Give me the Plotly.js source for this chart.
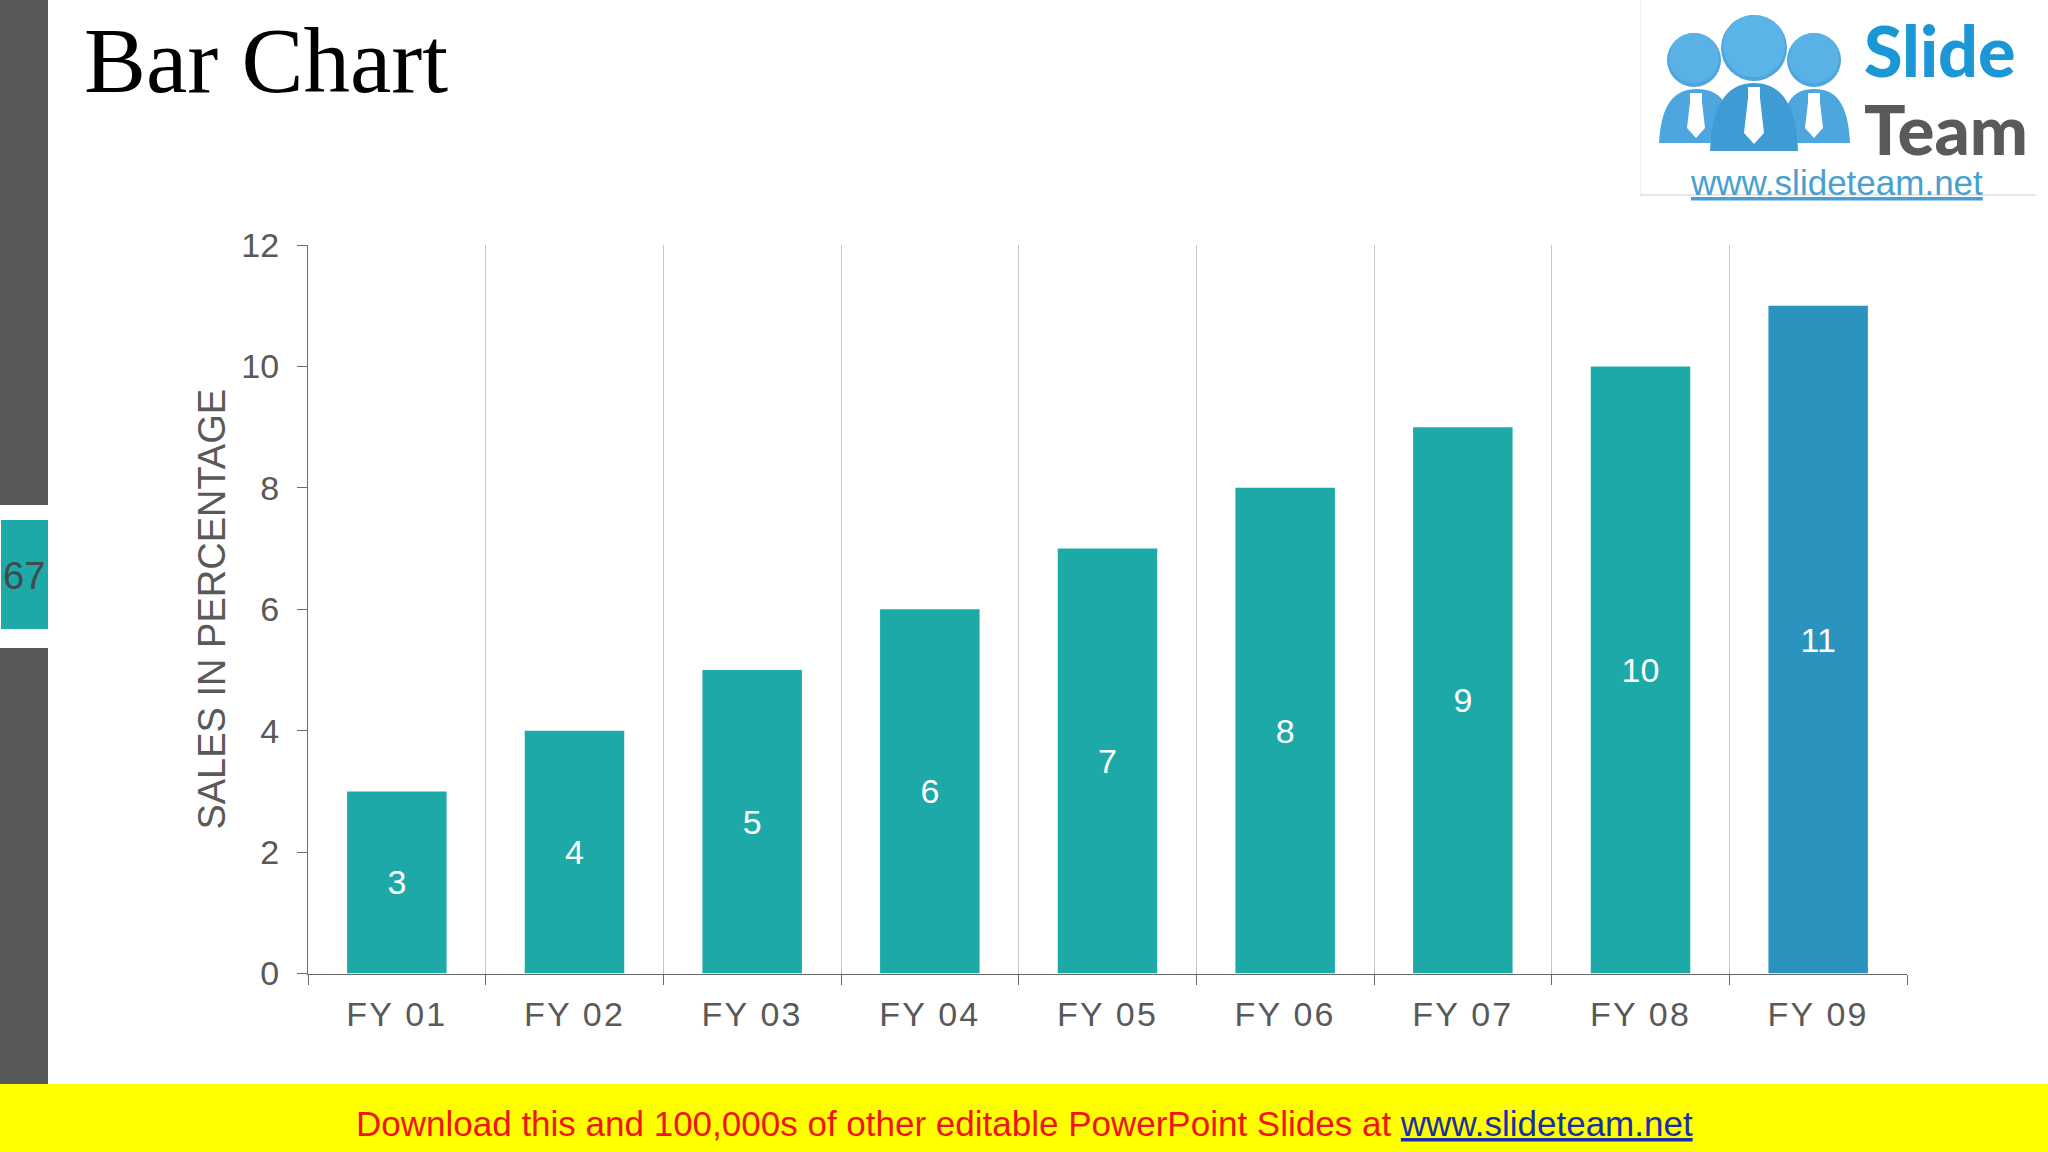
<!DOCTYPE html>
<html>
<head>
<meta charset="utf-8">
<script src="https://cdn.plot.ly/plotly-3.0.1.min.js"></script>
<style>
html,body{margin:0;padding:0;background:#fff;}
#chart{width:2048px;height:1152px;}
.xtick text{letter-spacing:2.2px;}
</style>
</head>
<body>
<div id="chart"></div>
<script>
const categories = ["FY 01","FY 02","FY 03","FY 04","FY 05","FY 06","FY 07","FY 08","FY 09"];
const salesValues = [3,4,5,6,7,8,9,10,11];
const yTickValues = [0,2,4,6,8,10,12];
const chartTitle = "Bar Chart";
const yAxisTitle = "SALES IN PERCENTAGE";
const pageNumber = "67";
const bannerText = "Download this and 100,000s of other editable PowerPoint Slides at ";
const siteText = "www.slideteam.net";

const W = 2048, H = 1152;
const X = p => p / W;
const Y = p => 1 - p / H;
const TEAL = "#1ca9a8", BLUE = "#2b94be", GREY = "#58585a", TEXT = "#595959";

function rect(x0, y0, x1, y1, fill) {
  return {type:"rect", xref:"paper", yref:"paper", x0:X(x0), x1:X(x1), y0:Y(y0), y1:Y(y1),
          fillcolor:fill, line:{width:0}, layer:"below"};
}
function circle(cx, cy, r, fill) {
  return {type:"circle", xref:"paper", yref:"paper", x0:X(cx-r), x1:X(cx+r), y0:Y(cy-r), y1:Y(cy+r),
          fillcolor:fill, line:{width:0}, layer:"below"};
}
// logo path given in page pixels
function logoPath(cmds, fill) {
  const d = cmds.map(c => c[0] + c.slice(1).map((v,i) => (i%2===0 ? X(v) : Y(v))).join(",")).join(" ") + " Z";
  return {type:"path", xref:"paper", yref:"paper", path:d, fillcolor:fill, line:{width:0}, layer:"below"};
}
function body(x0, x1, xm, top, bottom, fill) {
  return logoPath([["M",x0,bottom],["C",x0+2,top+14,xm-22,top,xm,top],["C",xm+22,top,x1-2,top+14,x1,bottom]], fill);
}
function tie(cx, top, neckW, neck, w, shoulder, bottom) {
  return logoPath([["M",cx-neckW,top],["L",cx+neckW,top],["L",cx+neckW,neck],["L",cx+w,shoulder],["L",cx,bottom],["L",cx-w,shoulder],["L",cx-neckW,neck]], "#ffffff");
}

const shapes = [
  rect(0,0,48,505,GREY),
  rect(0,648,48,1084,GREY),
  rect(1,520,48,629,TEAL),
  rect(0,1084,2048,1152,"#ffff00"),
  // logo frame lines
  rect(1640,0,1641,195,"#f2f2f2"),
  rect(1640,194.5,2036,195.5,"#cfcfcf"),
  // logo people
  body(1659,1735,1697,89,143,"#4da6dd"),
  body(1780,1850,1814,89,143,"#4da6dd"),
  tie(1696,93,6,102,9,128,138),
  tie(1814,93,6,102,9,128,138),
  circle(1694,60,27,"#4ea6de"),
  circle(1694,58,25,"#59b1e6"),
  circle(1814,60,27,"#4ea6de"),
  circle(1814,58,25,"#59b1e6"),
  body(1710,1798,1754,83,151,"#3f9bd3"),
  tie(1754,87,6,98,10,133,144),
  circle(1754,48,33,"#4ea6de"),
  circle(1754,46,31,"#5ab4e8")
];

const annotations = [
  {text:chartTitle, xref:"paper", yref:"paper", x:X(82), y:Y(60), xanchor:"left", yanchor:"middle", showarrow:false,
   font:{family:"Liberation Serif, serif", size:93, color:"#000000"}},
  {text:pageNumber, xref:"paper", yref:"paper", x:X(24), y:Y(576), xanchor:"center", yanchor:"middle", showarrow:false,
   font:{family:"Liberation Sans, Arial, sans-serif", size:38, color:"#3f4a4c"}},
  {text:'<span style="color:#f01414">'+bannerText+'</span><span style="color:#1a2ea8"><u>'+siteText+'</u></span>',
   xref:"paper", yref:"paper", x:X(1024), y:Y(1123), xanchor:"center", yanchor:"middle", showarrow:false,
   font:{family:"Liberation Sans, Arial, sans-serif", size:35, color:"#f01414"}},
  {text:"Slide", xref:"paper", yref:"paper", x:X(1862), y:Y(50), xanchor:"left", yanchor:"middle", showarrow:false,
   font:{family:"Lato, sans-serif", size:70, weight:900, color:"#1a97d4"}},
  {text:"Team", xref:"paper", yref:"paper", x:X(1862), y:Y(128), xanchor:"left", yanchor:"middle", showarrow:false,
   font:{family:"Lato, sans-serif", size:69, weight:900, color:"#5a5a5c"}},
  {text:"<u>www.slideteam.net</u>", xref:"paper", yref:"paper", x:X(1836), y:Y(183), xanchor:"center", yanchor:"middle", showarrow:false,
   font:{family:"Liberation Sans, Arial, sans-serif", size:35, color:"#4a9fd0"}}
];

const trace = {
  type:"bar",
  x:categories,
  y:salesValues,
  text:salesValues.map(String),
  textposition:"inside",
  insidetextanchor:"middle",
  textangle:0,
  constraintext:"none",
  insidetextfont:{family:"Liberation Sans, Arial, sans-serif", size:34, color:"#ffffff"},
  marker:{color:categories.map((c,i) => i === categories.length-1 ? BLUE : TEAL), line:{width:0}},
  hoverinfo:"x+y"
};

const layout = {
  width:W, height:H, autosize:false,
  margin:{l:0,r:0,t:0,b:0,pad:0},
  paper_bgcolor:"#ffffff", plot_bgcolor:"#ffffff",
  showlegend:false,
  bargap:0.44,
  xaxis:{
    domain:[X(308),X(1907)], type:"category", tickson:"boundaries",
    showline:true, linecolor:"#6a6a6a", linewidth:1.3,
    showgrid:true, gridcolor:"#c6c6c6", gridwidth:1.4,
    ticks:"outside", ticklen:10, tickcolor:"#6a6a6a", tickwidth:1.3,
    ticklabelstandoff:11,
    tickfont:{family:"Liberation Sans, Arial, sans-serif", size:34, color:TEXT},
    fixedrange:true
  },
  yaxis:{
    domain:[Y(973.5),Y(245)], range:[0,12],
    tickvals:yTickValues, ticktext:yTickValues.map(String),
    showline:true, linecolor:"#6a6a6a", linewidth:1.3,
    showgrid:false, zeroline:false,
    ticks:"outside", ticklen:10, tickcolor:"#6a6a6a", tickwidth:1.3,
    ticklabelstandoff:11,
    tickfont:{family:"Liberation Sans, Arial, sans-serif", size:34, color:TEXT},
    title:{text:yAxisTitle, standoff:3, font:{family:"Liberation Sans, Arial, sans-serif", size:38, color:TEXT}},
    fixedrange:true
  },
  shapes:shapes,
  annotations:annotations
};

Plotly.newPlot("chart",[trace],layout,{displayModeBar:false,responsive:false});
</script>
</body>
</html>
